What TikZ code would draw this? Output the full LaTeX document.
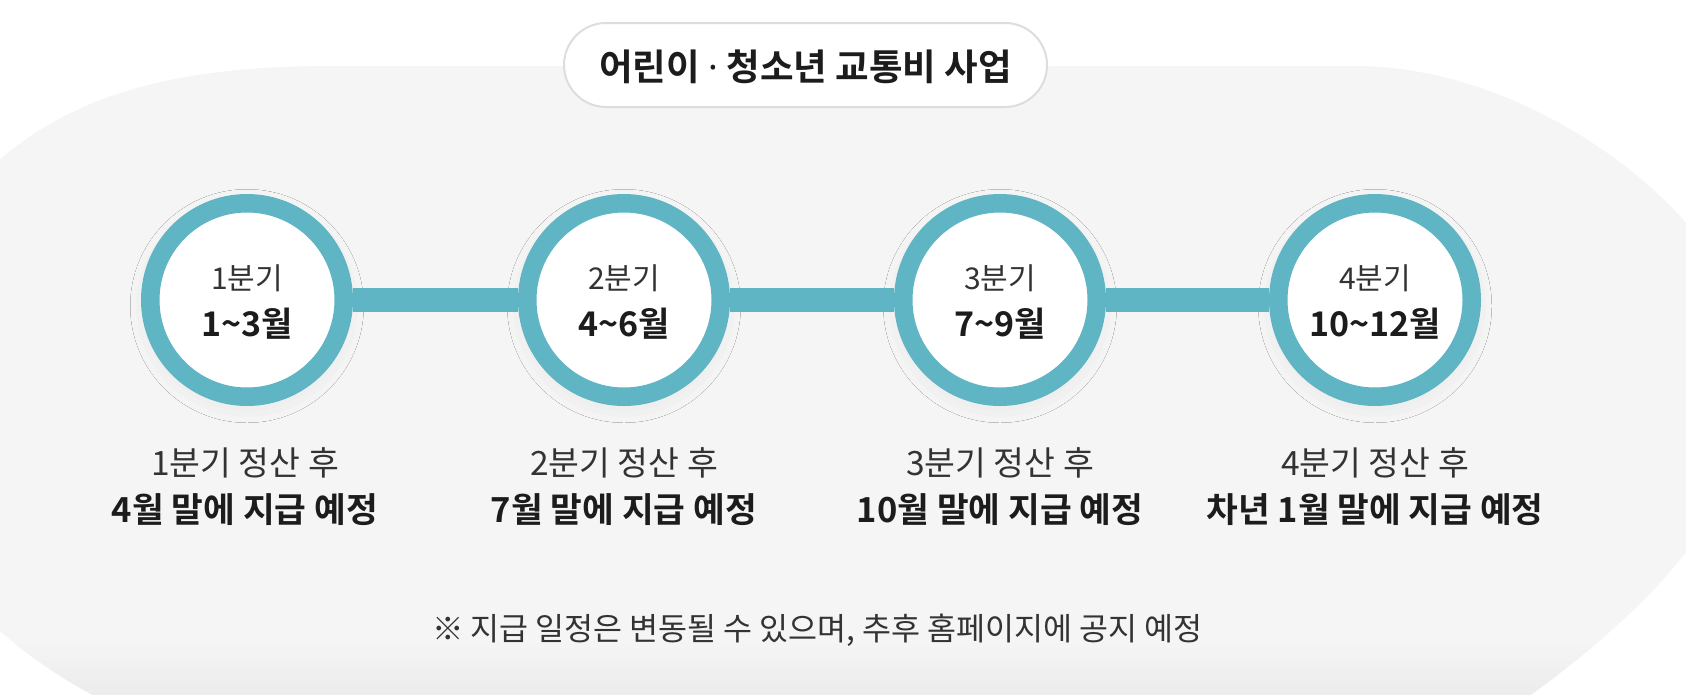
\documentclass[tikz,border=0pt]{standalone}
\usepackage{fontspec}
\setmainfont{Noto Sans CJK KR}[BoldFont={Noto Sans CJK KR Bold}]
\newfontfamily\latinsans{Noto Sans}
\usetikzlibrary{shadows.blur}
\definecolor{tealring}{HTML}{5FB5C3}
\definecolor{bgpanel}{HTML}{F5F5F5}
\definecolor{bgshade}{HTML}{ECECEC}
\definecolor{inkdark}{HTML}{1C1C1C}
\definecolor{inkreg}{HTML}{333333}
\definecolor{pillline}{HTML}{DDDDDD}
\newcommand{\setfs}[1]{\fontsize{#1pt}{#1pt}\selectfont}
\begin{document}
\begin{tikzpicture}[x=1pt,y=-1pt,
  qcircle/.style={circle, minimum size=193.5pt, inner sep=0pt, draw=tealring,
    line width=18.5pt, fill=white,
    blur shadow={shadow xshift=0pt, shadow yshift=-6pt, shadow blur radius=20pt, shadow opacity=8}},
  bar/.style={draw=tealring, line width=24pt},
  qtop/.style={anchor=base, inner sep=0pt, text=inkreg, font=\setfs{30}},
  qbot/.style={anchor=base, inner sep=0pt, text=inkdark, font=\setfs{34}\bfseries},
  dtop/.style={anchor=base, inner sep=0pt, text=inkreg, font=\setfs{33.5}},
  dbot/.style={anchor=base, inner sep=0pt, text=inkdark, font=\setfs{34.5}\bfseries},
  pill/.style={rectangle, rounded corners=42pt, minimum width=483pt, minimum height=84pt,
    draw=pillline, line width=2pt, fill=white, inner sep=0pt},
  ttl/.style={anchor=base, inner sep=0pt, text=inkdark, font=\setfs{36.5}\bfseries},
  note/.style={anchor=base, inner sep=0pt, text=inkreg, font=\setfs{31.5}}
]
\useasboundingbox (0,0) rectangle (1686,694);
\def\panelpath{(330,66) -- (1355,66)
    .. controls (1500,66) and (1640,160) .. (1700,240)
    .. controls (1750,310) and (1760,380) .. (1745,440)
    .. controls (1720,540) and (1620,630) .. (1532,694)
    .. controls (1480,732) and (1420,780) .. (1300,780)
    -- (400,780)
    .. controls (250,780) and (170,736) .. (91,694)
    .. controls (-10,640) and (-105,540) .. (-120,440)
    .. controls (-130,380) and (-110,290) .. (-40,200)
    .. controls (40,105) and (150,66) .. (330,66) -- cycle}
\begin{scope}
  \clip (0,0) rectangle (1686,694);
  \fill[bgpanel] \panelpath;
  \begin{scope}
    \clip \panelpath;
    \shade[top color=bgpanel, bottom color=bgshade] (0,640) rectangle (1686,694);
  \end{scope}
\end{scope}

% title pill
\node[pill] (pillbox) at (805.5,65) {};
\node[ttl] (title) at (805.5,80.5) {어린이 {\latinsans ·} 청소년 교통비 사업};

% quarter circles
\node[qcircle] (q1) at (247,300) {};
\node[qcircle] (q2) at (624,300) {};
\node[qcircle] (q3) at (1000,300) {};
\node[qcircle] (q4) at (1375,300) {};

\draw[bar] (q1) -- (q2);
\draw[bar] (q2) -- (q3);
\draw[bar] (q3) -- (q4);

\node[qtop] (q1a) at (247,289) {1분기};
\node[qbot] (q1b) at (247,336.5) {1\textasciitilde3월};
\node[qtop] (q2a) at (624,289) {2분기};
\node[qbot] (q2b) at (624,336.5) {4\textasciitilde6월};
\node[qtop] (q3a) at (1000,289) {3분기};
\node[qbot] (q3b) at (1000,336.5) {7\textasciitilde9월};
\node[qtop] (q4a) at (1375,289) {4분기};
\node[qbot] (q4b) at (1375,336.5) {10\textasciitilde12월};

% descriptions
\node[dtop] (d1a) at (245,475.5) {1분기 정산 후};
\node[dbot] (d1b) at (245,522.5) {4월 말에 지급 예정};
\node[dtop] (d2a) at (624,475.5) {2분기 정산 후};
\node[dbot] (d2b) at (624,522.5) {7월 말에 지급 예정};
\node[dtop] (d3a) at (1000,475.5) {3분기 정산 후};
\node[dbot] (d3b) at (1000,522.5) {10월 말에 지급 예정};
\node[dtop] (d4a) at (1375,475.5) {4분기 정산 후};
\node[dbot] (d4b) at (1375,522.5) {차년 1월 말에 지급 예정};

\node[note] (foot) at (817.5,640.5) {※ 지급 일정은 변동될 수 있으며, 추후 홈페이지에 공지 예정};
\end{tikzpicture}
\end{document}
